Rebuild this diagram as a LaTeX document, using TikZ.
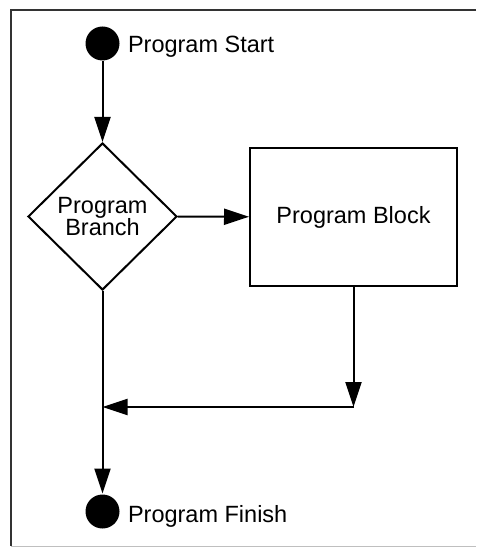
\documentclass[tikz,border=0pt]{standalone}
\usepackage{fontspec}
\setmainfont{Liberation Sans}
\usetikzlibrary{arrows.meta,shapes.geometric}

\begin{document}
\begin{tikzpicture}[x=1pt,y=-1pt,line width=2pt,>={Triangle[length=25pt,width=16pt]}]

\tikzset{
	dot/.style={circle,fill=black,inner sep=0pt,minimum size=34pt},
	txt/.style={font=\fontsize{23.5}{21}\selectfont,inner sep=0pt},
}

\useasboundingbox (0,0) rectangle (476,548);

% Rahmen
\draw[line width=2.4pt,black!80] (476,10) -- (11,10) -- (11,546);
\draw[line width=1pt,black!25] (11,546) -- (476,546);

\node[dot] (start) at (102.5,43.5) {};
\node[txt,anchor=base west] (starttext) at (127,53) {Program Start};

\node[draw,diamond,txt,align=center,minimum width=149pt,minimum height=147pt] (branch) at (102.5,216.5) {Program\\Branch};

\node[draw,rectangle,txt,minimum width=207pt,minimum height=138pt] (block) at (353.5,217) {Program Block};

\coordinate (corner) at (353.5,407);
\coordinate (join)   at (102.5,407);

\node[dot] (finish) at (102.5,511.5) {};
\node[txt,anchor=base west] (finishtext) at (127,522) {Program Finish};

\draw[->] (start) -- (branch);
\draw[->] (branch) -- (block);
\draw[->] (block.south) -- (corner);
\draw[->] (corner) -- (join);
\draw[->] (branch) -- (finish);

\end{tikzpicture}
\end{document}
